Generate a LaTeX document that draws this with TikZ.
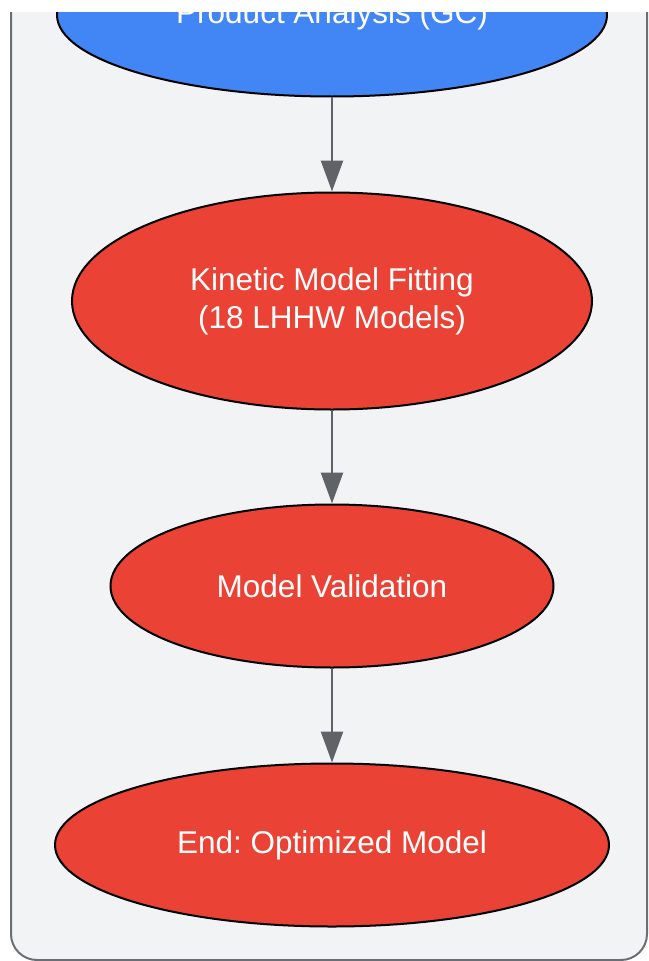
\documentclass[tikz,border=0pt]{standalone}
\usepackage{fontspec}
\setmainfont{Liberation Sans}
\usetikzlibrary{shapes.geometric,arrows.meta}
\frenchspacing

\definecolor{panelgray}{HTML}{F1F3F5}
\definecolor{panelline}{HTML}{6B6E74}
\definecolor{stepblue}{HTML}{4285F4}
\definecolor{stepred}{HTML}{EA4335}
\definecolor{arrowgray}{HTML}{5F6368}

\tikzset{
	stage/.style={ellipse,draw=black,line width=2pt,inner sep=0pt,text=white,
		align=center,font=\fontsize{31.5}{38}\selectfont},
	flow/.style={draw=arrowgray,line width=2.5pt,-{Triangle[length=31pt,width=22pt]}}
}

\begin{document}
\begin{tikzpicture}[x=1pt,y=-1pt]
				\useasboundingbox (0,0) rectangle (648,961);
				\begin{scope}
				\clip (0,12) rectangle (648,961);
				\draw [fill=panelgray,draw=panelline,line width=2,rounded corners=26]
					(11,-40) rectangle (647,960);
				\node[stage,fill=stepblue,minimum width=550pt,minimum height=163pt] (gc) at (332,15) {Product Analysis (GC)};
				\end{scope}
				\node[stage,fill=stepred,minimum width=520pt,minimum height=217pt] (fit) at (332,301) {Kinetic Model Fitting\\(18 LHHW Models)};
				\node[stage,fill=stepred,minimum width=443pt,minimum height=163pt] (valid) at (332,586) {Model Validation};
				\node[stage,fill=stepred,minimum width=554pt,minimum height=163pt] (done) at (332,845) {End: Optimized Model};
				\draw[flow] (gc.south) -- (fit.north);
				\draw[flow] (fit) -- (valid);
				\draw[flow] (valid) -- (done);
			\end{tikzpicture}
\end{document}
